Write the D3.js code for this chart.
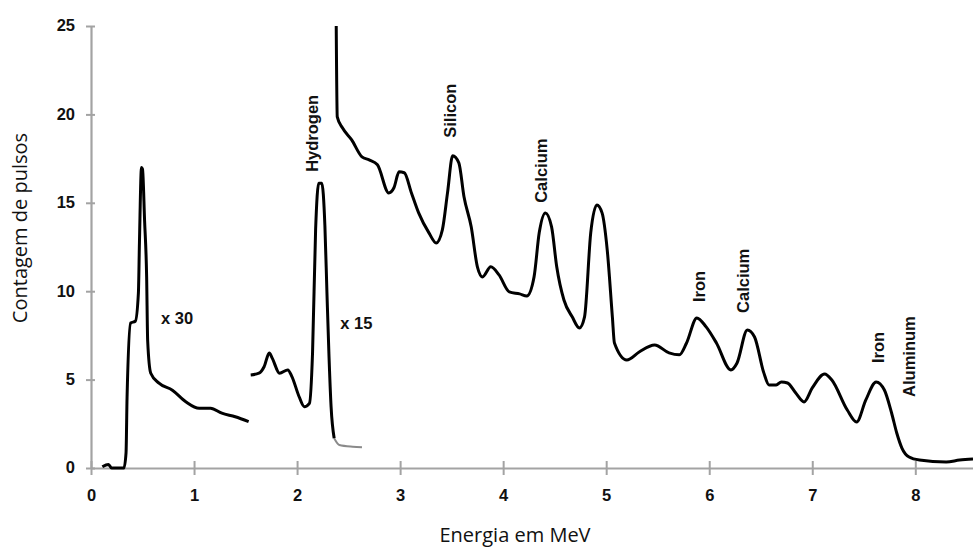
<!DOCTYPE html>
<html>
<head>
<meta charset="utf-8">
<script src="https://cdn.jsdelivr.net/npm/d3@7/dist/d3.min.js"></script>
<style>
  html, body { margin: 0; padding: 0; background: #fff; }
  svg { display: block; }
  .tick text { font-family: "Liberation Sans", Arial, sans-serif; font-weight: bold; font-size: 16.5px; fill: #111; }
  .note { font-family: "Liberation Sans", Arial, sans-serif; font-weight: bold; font-size: 16.5px; fill: #111; }
  .title { font-family: "Open Sans", sans-serif; font-size: 20px; fill: #111; }
</style>
</head>
<body>
<script>
// spectrum pieces: [energy MeV, counts]
const lowPart = [
  [0.11, 0.07], [0.17, 0.2], [0.2, 0], [0.32, 0], [0.34, 0.85], [0.35, 4.0],
  [0.385, 8.2], [0.43, 8.3], [0.46, 9.9], [0.47, 12.7], [0.49, 17.0], [0.50, 16.9],
  [0.52, 14.0], [0.54, 10.8], [0.55, 7.2], [0.58, 5.36], [0.66, 4.8], [0.79, 4.4],
  [0.92, 3.75], [1.05, 3.38], [1.16, 3.38], [1.27, 3.1], [1.40, 2.9], [1.53, 2.62]
];
const hydrogenPart = [
  [1.55, 5.26], [1.63, 5.36], [1.68, 5.73], [1.73, 6.5], [1.76, 6.2], [1.83, 5.36],
  [1.91, 5.55], [1.95, 5.17], [2.02, 4.03], [2.07, 3.47], [2.12, 3.66], [2.15, 6.5],
  [2.18, 13.5], [2.21, 16.1], [2.24, 16.1], [2.27, 13.7], [2.29, 9.9], [2.31, 6.3],
  [2.33, 3.47], [2.36, 1.68]
];
const hydrogenTail = [[2.36, 1.68], [2.41, 1.3], [2.54, 1.2], [2.63, 1.17]];
const mainPart = [
  [2.38, 25], [2.39, 19.86], [2.44, 19.24], [2.53, 18.56], [2.63, 17.6], [2.70, 17.43],
  [2.78, 17.15], [2.89, 15.56], [2.94, 15.85], [2.99, 16.75], [3.04, 16.7], [3.11, 15.56],
  [3.18, 14.43], [3.28, 13.3], [3.35, 12.73], [3.41, 13.47], [3.46, 15.56], [3.51, 17.66],
  [3.57, 17.26], [3.62, 15.34], [3.69, 13.64], [3.75, 11.38], [3.80, 10.81], [3.88, 11.38],
  [3.96, 10.92], [4.06, 9.96], [4.16, 9.85], [4.23, 9.73], [4.30, 10.81], [4.35, 13.3],
  [4.41, 14.43], [4.47, 13.64], [4.52, 11.38], [4.59, 9.5], [4.67, 8.55], [4.74, 7.92],
  [4.79, 8.55], [4.85, 13.3], [4.91, 14.88], [4.96, 14.43], [5.01, 12.34], [5.06, 8.55],
  [5.08, 7.07], [5.20, 6.11], [5.32, 6.56], [5.47, 6.96], [5.61, 6.51], [5.71, 6.4],
  [5.78, 7.07], [5.88, 8.49], [5.97, 7.98], [6.07, 7.07], [6.21, 5.55], [6.27, 5.94],
  [6.37, 7.81], [6.44, 7.41], [6.53, 5.38], [6.58, 4.7], [6.65, 4.7], [6.70, 4.87],
  [6.76, 4.81], [6.84, 4.24], [6.92, 3.74], [7.00, 4.53], [7.12, 5.32], [7.19, 4.98],
  [7.34, 3.28], [7.43, 2.6], [7.52, 3.85], [7.62, 4.87], [7.70, 4.41], [7.77, 3.11],
  [7.82, 1.98], [7.87, 1.13], [7.94, 0.62], [8.04, 0.45], [8.30, 0.34], [8.43, 0.45],
  [8.56, 0.51]
];

// peak labels (rotated) and scale notes: text, energy, counts at label foot
const peakNames = ['Hydrogen', 'Silicon', 'Calcium', 'Iron', 'Calcium', 'Iron', 'Aluminum'];
const peakX = [2.15, 3.48, 4.37, 5.90, 6.33, 7.64, 7.94];
const peakY = [16.75, 18.68, 15.0, 9.39, 8.77, 5.94, 4.02];
const scaleNotes = ['x 30', 'x 15'];
const noteX = [0.68, 2.42];
const noteY = [8.15, 7.85];

const xTicks = [0, 1, 2, 3, 4, 5, 6, 7, 8];
const yTicks = [0, 5, 10, 15, 20, 25];

const W = 973, H = 549;
const xMax = 8.56;

const svg = d3.select('body').append('svg').attr('width', W).attr('height', H);

const x = d3.scaleLinear().domain([0, xMax]).range([91, 973]);
const y = d3.scaleLinear().domain([0, 25]).range([468, 26]);

const axisGrey = '#a3a3a3';

let xAxis = svg.append('g').attr('transform', `translate(0, ${y(0)})`)
    .call(d3.axisBottom(x).tickValues(xTicks).tickFormat(d3.format('d')).tickSize(7).tickSizeOuter(0));
xAxis.select('.domain').attr('stroke', axisGrey).attr('stroke-width', 2.2);
xAxis.selectAll('.tick line').attr('stroke', axisGrey).attr('stroke-width', 2).attr('y1', -7);
xAxis.selectAll('.tick text').attr('y', 27).attr('dy', '0.35em');

let yAxis = svg.append('g').attr('transform', `translate(${x(0)}, 0)`)
    .call(d3.axisLeft(y).tickValues(yTicks).tickSize(5).tickSizeOuter(0));
yAxis.select('.domain').attr('stroke', axisGrey).attr('stroke-width', 2.2);
yAxis.selectAll('.tick line').attr('stroke', axisGrey).attr('stroke-width', 2).attr('x2', -5).attr('x1', 4);
yAxis.selectAll('.tick text').attr('x', -16).attr('dy', '0.3em');

const line = d3.line()
    .x(d => x(d[0]))
    .y(d => y(d[1]))
    .curve(d3.curveMonotoneX);

svg.append('path').attr('d', line(hydrogenTail))
    .attr('fill', 'none').attr('stroke', '#8a8a8a').attr('stroke-width', 2);

[lowPart, hydrogenPart, mainPart].forEach(part => {
    svg.append('path').attr('d', line(part))
        .attr('fill', 'none').attr('stroke', '#000').attr('stroke-width', 3)
        .attr('stroke-linejoin', 'round');
});

peakNames.forEach((name, i) => {
    svg.append('text').attr('class', 'note')
        .attr('transform', `translate(${x(peakX[i])}, ${y(peakY[i])}) rotate(-90)`)
        .attr('dy', '0.36em')
        .text(name);
});

scaleNotes.forEach((t, i) => {
    svg.append('text').attr('class', 'note')
        .attr('x', x(noteX[i])).attr('y', y(noteY[i]))
        .text(t);
});

svg.append('text').attr('class', 'title')
    .attr('transform', 'translate(20, 228) rotate(-90)')
    .attr('text-anchor', 'middle').attr('dy', '0.35em')
    .text('Contagem de pulsos');

svg.append('text').attr('class', 'title')
    .attr('x', 515).attr('y', 535)
    .attr('text-anchor', 'middle').attr('dy', '0.35em')
    .text('Energia em MeV');
</script>
</body>
</html>
